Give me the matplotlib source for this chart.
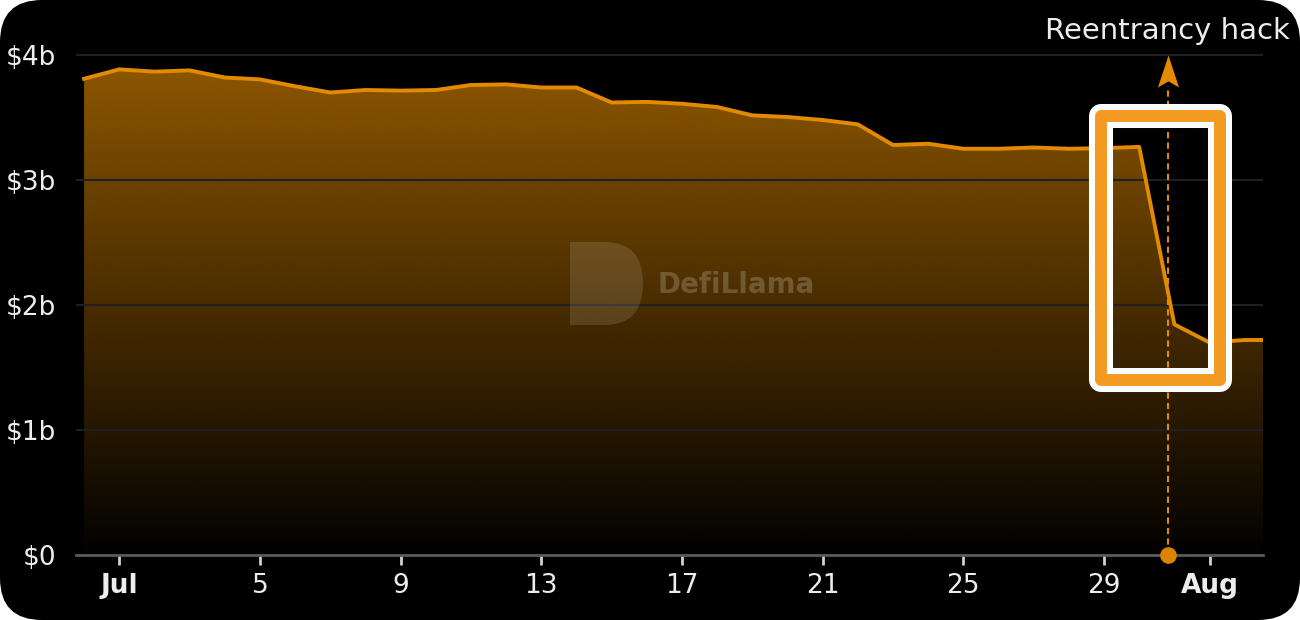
import numpy as np
import matplotlib.pyplot as plt
from matplotlib.patches import FancyBboxPatch, Rectangle, PathPatch
from matplotlib.path import Path

# days counted from Jul 1 (Jun 30 = -1 ... Aug 3 = 33)
days = np.arange(-1, 34)
tvl = [3.81, 3.885, 3.867, 3.877, 3.82, 3.805, 3.75, 3.70, 3.72, 3.715,
       3.72, 3.76, 3.765, 3.74, 3.74, 3.62, 3.625, 3.61, 3.584, 3.517,
       3.504, 3.48, 3.445, 3.28, 3.29, 3.25, 3.25, 3.26, 3.25, 3.255,
       3.265, 1.845, 1.70, 1.72, 1.72]

tick_days = [0, 4, 8, 12, 16, 20, 24, 28, 31]
tick_labels = ['Jul', '5', '9', '13', '17', '21', '25', '29', 'Aug']
y_ticks = [0, 1, 2, 3, 4]
y_labels = ['$0', '$1b', '$2b', '$3b', '$4b']

hack_day = 29.81
hack_label = 'Reentrancy hack'
box_days = (27.9, 31.29)
box_vals = (1.40, 3.51)

line_col = '#E38B00'
box_col = '#F29A22'
txt_col = '#EDEDED'

plt.rcParams['font.family'] = ['DejaVu Sans']

fig = plt.figure(figsize=(13, 6.2), dpi=100, facecolor='white')
bg = FancyBboxPatch((0, 0), 13, 6.2, boxstyle='round,pad=0,rounding_size=0.42',
                    transform=fig.dpi_scale_trans, fc='black', ec='none', zorder=-1)
fig.patches.append(bg)

ax = fig.add_axes([76 / 1300, 65 / 620, 1187 / 1300, 525 / 620])
ax.set_facecolor('none')

# gradient fill under the line
rgb = np.array([227, 139, 0]) / 255
grad = np.zeros((256, 1, 4))
grad[..., :3] = rgb
grad[:, 0, 3] = np.linspace(0.01, 0.62, 256)
im = ax.imshow(grad, extent=(days[0], days[-1], 0, max(tvl)), origin='lower',
               aspect='auto', zorder=1, interpolation='bilinear')
poly = ax.fill_between(days, tvl, 0, color='none', lw=0)
im.set_clip_path(poly.get_paths()[0], transform=ax.transData)

ax.plot(days, tvl, color=line_col, lw=2.8, zorder=4, solid_joinstyle='round')

# watermark
ax.text(0.490, 0.514, 'DefiLlama', transform=ax.transAxes, ha='left', va='center',
        fontsize=20, fontweight='bold', color='white', alpha=0.2, zorder=3)
d_verts = [(5.70, 3.78), (6.05, 3.78), (6.43, 3.78), (6.43, 3.365), (6.43, 2.95),
           (6.05, 2.95), (5.70, 2.95), (5.70, 3.78)]
d_codes = [Path.MOVETO, Path.LINETO, Path.CURVE3, Path.CURVE3, Path.CURVE3,
           Path.CURVE3, Path.LINETO, Path.CLOSEPOLY]
fig.patches.append(PathPatch(Path(d_verts, d_codes), transform=fig.dpi_scale_trans,
                             fc='white', ec='none', alpha=0.12, zorder=2))

# hack marker
ax.plot([hack_day, hack_day], [0, 3.75], color=line_col, lw=1.5,
        ls=(0, (3, 2)), zorder=5, clip_on=False)
arrow = Path([(0, 1), (0.66, -1), (0, -0.62), (-0.66, -1), (0, 1)],
             [Path.MOVETO, Path.LINETO, Path.LINETO, Path.LINETO, Path.CLOSEPOLY])
ax.plot([hack_day], [3.87], marker=arrow, markersize=23, color=line_col,
        mec='none', zorder=5, clip_on=False)
ax.plot([hack_day], [0], marker='o', markersize=12, color='#DB8400',
        mec='none', zorder=6, clip_on=False)
fig.text(1290 / 1300, 1 - 31 / 620, hack_label, ha='right', va='center',
         fontsize=21, color=txt_col)

for lw, col in [(17.3, 'white'), (8.6, box_col)]:
    ax.add_patch(Rectangle((box_days[0], box_vals[0]), box_days[1] - box_days[0],
                           box_vals[1] - box_vals[0], fill=False, ec=col, lw=lw,
                           joinstyle='round', zorder=7, clip_on=False))

ax.set_xlim(-1.23, 32.52)
ax.set_ylim(0, 4.2)

ax.set_yticks(y_ticks)
ax.set_yticklabels(y_labels)
ax.set_xticks(tick_days)
ax.set_xticklabels(tick_labels)
for lab in ax.get_xticklabels():
    if lab.get_text() in ('Jul', 'Aug'):
        lab.set_fontweight('bold')

ax.grid(axis='y', color='#202020', lw=1.5, zorder=0)
ax.tick_params(axis='y', length=0, pad=14, labelsize=19, labelcolor=txt_col)
ax.tick_params(axis='x', length=7, width=2, color='#D0D0D0', pad=6,
               labelsize=19, labelcolor=txt_col)
for side in ('top', 'right', 'left'):
    ax.spines[side].set_visible(False)
ax.spines['bottom'].set_color('#5A5A5A')
ax.spines['bottom'].set_linewidth(2)

fig.savefig('out.png', dpi=100, facecolor='white')
